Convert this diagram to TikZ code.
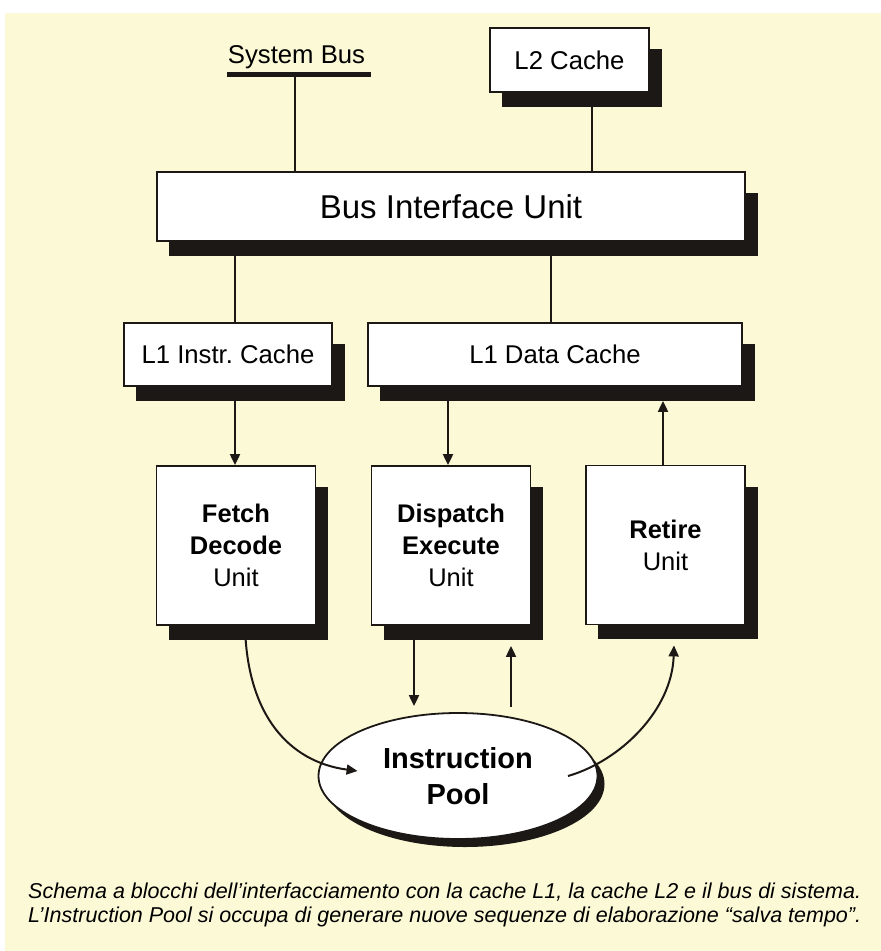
\documentclass[tikz,border=0pt]{standalone}
\usepackage{fontspec}
\setmainfont{Liberation Sans}
\usetikzlibrary{positioning,calc}
\usetikzlibrary{arrows.meta,shapes.geometric,backgrounds}
\definecolor{PaperCream}{RGB}{252,250,214}
\definecolor{InkBlack}{RGB}{28,24,22}
\tikzset{
  box/.style={draw=InkBlack,fill=white,line width=1.8pt,inner sep=0pt,align=center,
    font=\fontsize{25.7}{32}\selectfont},
  unitbox/.style={box,minimum width=159pt,minimum height=159pt,font=\fontsize{25.5}{32}\selectfont},
  link/.style={draw=InkBlack,line width=2pt},
  arr/.style={link,-{Triangle[length=11pt,width=10pt]}},
}
\tikzset{pool/.style={ellipse,draw=InkBlack,fill=white,line width=1.8pt,inner sep=0pt,align=center,
    minimum width=279pt,minimum height=126pt,font=\fontsize{29}{36}\selectfont\bfseries},
  caption/.style={anchor=base west,inner sep=0pt,font=\fontsize{21.5}{24}\selectfont\itshape}}

\begin{document}
\begin{tikzpicture}[x=1pt,y=-1pt]
\useasboundingbox (0,0) rectangle (881,951);
\node[inner sep=0pt,anchor=base,font=\fontsize{25.7}{30}\selectfont](sb) at (296.5,63){System Bus};
\coordinate(sbL) at (227,74.5);\coordinate(sbR) at (371,74.5);\coordinate(sbT) at (295,74.5);
\node[box,minimum width=159pt,minimum height=64pt](l2) at (569.5,60){L2 Cache};
\node[box,minimum width=588pt,minimum height=69pt,font=\fontsize{33}{40}\selectfont](biu) at (451,206.5){Bus Interface Unit};
\node[box,minimum width=208pt,minimum height=63pt](l1i) at (228,354.5){L1 Instr.\ Cache};
\node[box,minimum width=374pt,minimum height=63pt](l1d) at (555,354.5){L1 Data Cache};
\node[unitbox](fd) at (236,545.5){\textbf{Fetch}\\\textbf{Decode}\\Unit};
\node[unitbox](de) at (451,545.5){\textbf{Dispatch}\\\textbf{Execute}\\Unit};
\node[unitbox](ru) at (665.5,545){\textbf{Retire}\\Unit};
\node[pool](ip) at (458,776){Instruction\\Pool};
% taps of the vertical links
\coordinate(xL2) at (592,0);\coordinate(xI) at (235,0);\coordinate(xD) at (551,0);
\coordinate(xF) at (235,0);\coordinate(xE) at (448,0);\coordinate(xR) at (663,0);
\coordinate(xDn) at (414,0);\coordinate(xUp) at (511,0);
\draw[link,line width=5.5pt] (sbL) -- (sbR);
\draw[link] (sbT) -- (sbT |- biu.north);
\draw[link] (l2.south -| xL2) -- (biu.north -| xL2);
\draw[link] (biu.south -| xI) -- (l1i.north -| xI);
\draw[link] (biu.south -| xD) -- (l1d.north -| xD);
\draw[arr] (l1i.south -| xF) -- (fd.north -| xF);
\draw[arr] (l1d.south -| xE) -- (de.north -| xE);
\draw[arr] (ru.north -| xR) -- ([yshift=-14pt]l1d.south -| xR);
\draw[arr] (de.south -| xDn) -- ([yshift=6pt]ip.north -| xDn);
\draw[arr] ([yshift=5pt]ip.north -| xUp) -- ([yshift=-20pt]de.south -| xUp);
\draw[arr] ([xshift=9pt]fd.south) .. controls +(2,90) and +(-68,-9) .. ([xshift=40pt,yshift=5pt]ip.west);
\draw[arr] ([xshift=110pt]ip.center) .. controls +(52,-15) and +(-2,65) .. ([xshift=8.5pt,yshift=-20pt]ru.south);
\node[caption](cap1) at (28,898){Schema a blocchi dell’interfacciamento con la cache L1, la cache L2 e il bus di sistema.};
\node[caption](cap2) at (28,922){L’Instruction Pool si occupa di generare nuove sequenze di elaborazione “salva tempo”.};
\begin{scope}[on background layer]
\fill[PaperCream] (5,13) rectangle (881,951);
\foreach \b in {l2,biu,l1i,l1d,fd,de,ru}
  \fill[InkBlack] ($(\b.north west)+(13,22)$) rectangle ($(\b.south east)+(12,14)$);
\fill[InkBlack] ([shift={(7,8)}]ip.center) ellipse [x radius=139.5pt,y radius=63pt];
\end{scope}
\end{tikzpicture}
\end{document}
